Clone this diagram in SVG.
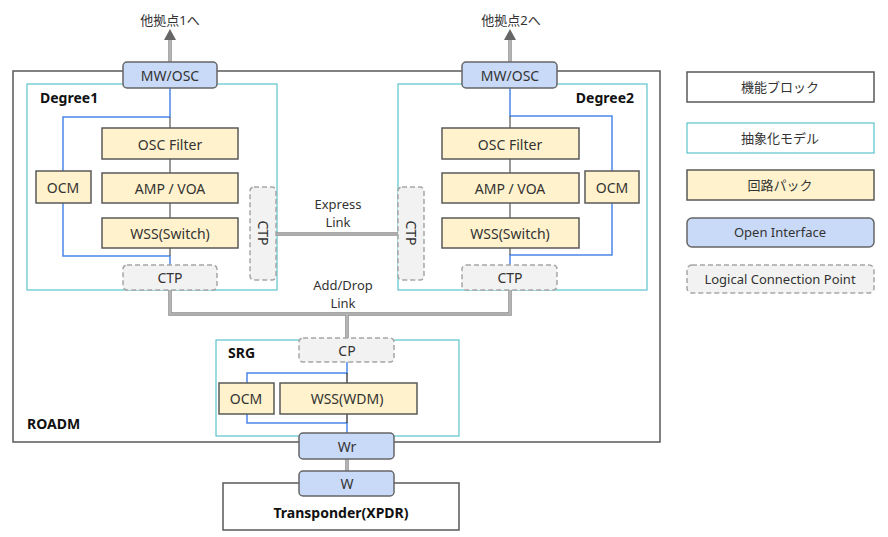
<svg xmlns="http://www.w3.org/2000/svg" width="888" height="537" viewBox="0 0 888 537">
<defs>
<style>
text{font-family:"Noto Sans","Noto Sans CJK JP",sans-serif;font-size:14px;fill:#333;text-anchor:middle;dominant-baseline:central}
.b{font-weight:bold;fill:#111;text-anchor:start}
.lb{font-size:13px}
.lg{font-size:13px}
.blk{fill:#fff;stroke:#595959;stroke-width:1.5}
.mdl{fill:none;stroke:#5bc4cc;stroke-width:1.2}
.pk{fill:#fff2cc;stroke:#595959;stroke-width:1.5}
.oi{fill:#c9daf8;stroke:#666;stroke-width:1.5}
.cp{fill:#f2f2f2;stroke:#a6a6a6;stroke-width:1.5;stroke-dasharray:5 3}
.bl{fill:none;stroke:#4a86e8;stroke-width:1.5}
.gl{fill:none;stroke:#555;stroke-width:1.2}
.lo{fill:none;stroke:#8c8c8c;stroke-width:3.5}
.li{fill:none;stroke:#cfcfcf;stroke-width:1.2}
</style>
</defs>
<rect width="888" height="537" fill="#fff"/>

<g id="roadm"><rect class="blk" x="13" y="71" width="647" height="371"/><text class="b" x="27" y="423">ROADM</text></g>
<g id="degree1"><rect class="mdl" x="27" y="84" width="250" height="206"/><text class="b" x="40" y="97">Degree1</text></g>
<g id="degree2"><rect class="mdl" x="398" y="84" width="249" height="206"/><text class="b" x="634" y="97" style="text-anchor:end">Degree2</text></g>
<g id="srg"><rect class="mdl" x="216" y="340" width="243" height="96"/><text class="b" x="228" y="352">SRG</text></g>

<g id="connectors">
<line class="lo" x1="170" y1="62" x2="170" y2="38"/><line class="li" x1="170" y1="62" x2="170" y2="38"/>
<line class="lo" x1="510" y1="62" x2="510" y2="38"/><line class="li" x1="510" y1="62" x2="510" y2="38"/>
<path d="M164,40 L170,29 L176,40 z" fill="#666"/>
<path d="M504,40 L510,29 L516,40 z" fill="#666"/>
<path class="bl" d="M170,88 V117 H63 V171"/>
<path class="bl" d="M63,203 V256 H170 V265"/>
<path class="gl" d="M170,117 V128 M170,159 V173 M170,203 V218 M170,248 V256"/>
<path class="bl" d="M510,88 V116 H612 V171"/>
<path class="bl" d="M612,203 V255 H510 V265"/>
<path class="gl" d="M510,116 V128 M510,159 V173 M510,203 V218 M510,248 V255"/>
<line class="lo" x1="276" y1="234" x2="398" y2="234"/><line class="li" x1="276" y1="234" x2="398" y2="234"/>
<path class="lo" d="M170,290 V314 H510 V290 M347,314 V338"/>
<path class="li" d="M170,290 V314 H510 V290 M347,314 V338"/>
<path class="bl" d="M347,362 V373 H247 V383"/>
<path class="bl" d="M247,414 V423 H347 V433"/>
<path class="gl" d="M347,373 V383 M347,414 V423" style="stroke:#222"/>
<line class="lo" x1="347" y1="459" x2="347" y2="471"/><line class="li" x1="347" y1="459" x2="347" y2="471"/>
</g>

<text x="170" y="20" class="lb">他拠点1へ</text>
<text x="511" y="20" class="lb">他拠点2へ</text>
<text x="338" y="204" class="lb">Express</text>
<text x="338" y="222" class="lb">Link</text>
<text x="343" y="285" class="lb">Add/Drop</text>
<text x="343" y="303" class="lb">Link</text>

<g id="mwosc1"><rect class="oi" x="123" y="62" width="94" height="26" rx="4"/><text x="170" y="75">MW/OSC</text></g>
<g id="mwosc2"><rect class="oi" x="462" y="62" width="95" height="26" rx="4"/><text x="510" y="75">MW/OSC</text></g>

<g id="d1-osc"><rect class="pk" x="102" y="128" width="136" height="31"/><text x="170" y="144">OSC Filter</text></g>
<g id="d1-amp"><rect class="pk" x="102" y="173" width="136" height="30"/><text x="170" y="188">AMP / VOA</text></g>
<g id="d1-wss"><rect class="pk" x="102" y="218" width="136" height="30"/><text x="170" y="233">WSS(Switch)</text></g>
<g id="d1-ocm"><rect class="pk" x="36" y="171" width="55" height="32"/><text x="63" y="187">OCM</text></g>
<g id="d1-ctp"><rect class="cp" x="123" y="265" width="94" height="25" rx="4"/><text x="170" y="277">CTP</text></g>
<g id="d1-ctpv"><rect class="cp" x="250" y="187" width="26" height="93" rx="4"/><text transform="translate(263,233) rotate(90)" x="0" y="0">CTP</text></g>

<g id="d2-osc"><rect class="pk" x="442" y="128" width="137" height="31"/><text x="510" y="144">OSC Filter</text></g>
<g id="d2-amp"><rect class="pk" x="442" y="173" width="137" height="30"/><text x="510" y="188">AMP / VOA</text></g>
<g id="d2-wss"><rect class="pk" x="442" y="218" width="137" height="30"/><text x="510" y="233">WSS(Switch)</text></g>
<g id="d2-ocm"><rect class="pk" x="585" y="171" width="54" height="32"/><text x="612" y="187">OCM</text></g>
<g id="d2-ctp"><rect class="cp" x="462" y="265" width="95" height="25" rx="4"/><text x="510" y="277">CTP</text></g>
<g id="d2-ctpv"><rect class="cp" x="398" y="187" width="26" height="93" rx="4"/><text transform="translate(411,233) rotate(90)" x="0" y="0">CTP</text></g>

<g id="srg-cp"><rect class="cp" x="299" y="338" width="95" height="24" rx="4"/><text x="347" y="350">CP</text></g>
<g id="srg-ocm"><rect class="pk" x="219" y="383" width="55" height="31"/><text x="246" y="398">OCM</text></g>
<g id="srg-wss"><rect class="pk" x="280" y="383" width="137" height="31"/><text x="347" y="398">WSS(WDM)</text></g>

<g id="xpdr"><rect class="blk" x="223" y="483" width="236" height="47"/><text class="b" x="341" y="512" style="text-anchor:middle">Transponder(XPDR)</text></g>
<g id="wr"><rect class="oi" x="299" y="433" width="95" height="26" rx="4"/><text x="347" y="446">Wr</text></g>
<g id="w"><rect class="oi" x="299" y="471" width="95" height="25" rx="4"/><text x="347" y="483">W</text></g>

<g id="legend">
<rect class="blk" x="687" y="72" width="187" height="30"/><text class="lg" x="780" y="87">機能ブロック</text>
<rect class="mdl" x="687" y="123" width="187" height="30"/><text class="lg" x="780" y="138">抽象化モデル</text>
<rect class="pk" x="687" y="170" width="187" height="30"/><text class="lg" x="780" y="185">回路パック</text>
<rect class="oi" x="687" y="218" width="187" height="29" rx="5"/><text class="lg" x="780" y="232">Open  Interface</text>
<rect class="cp" x="687" y="265" width="187" height="28" rx="5"/><text class="lg" x="780" y="279">Logical Connection Point</text>
</g>
</svg>
